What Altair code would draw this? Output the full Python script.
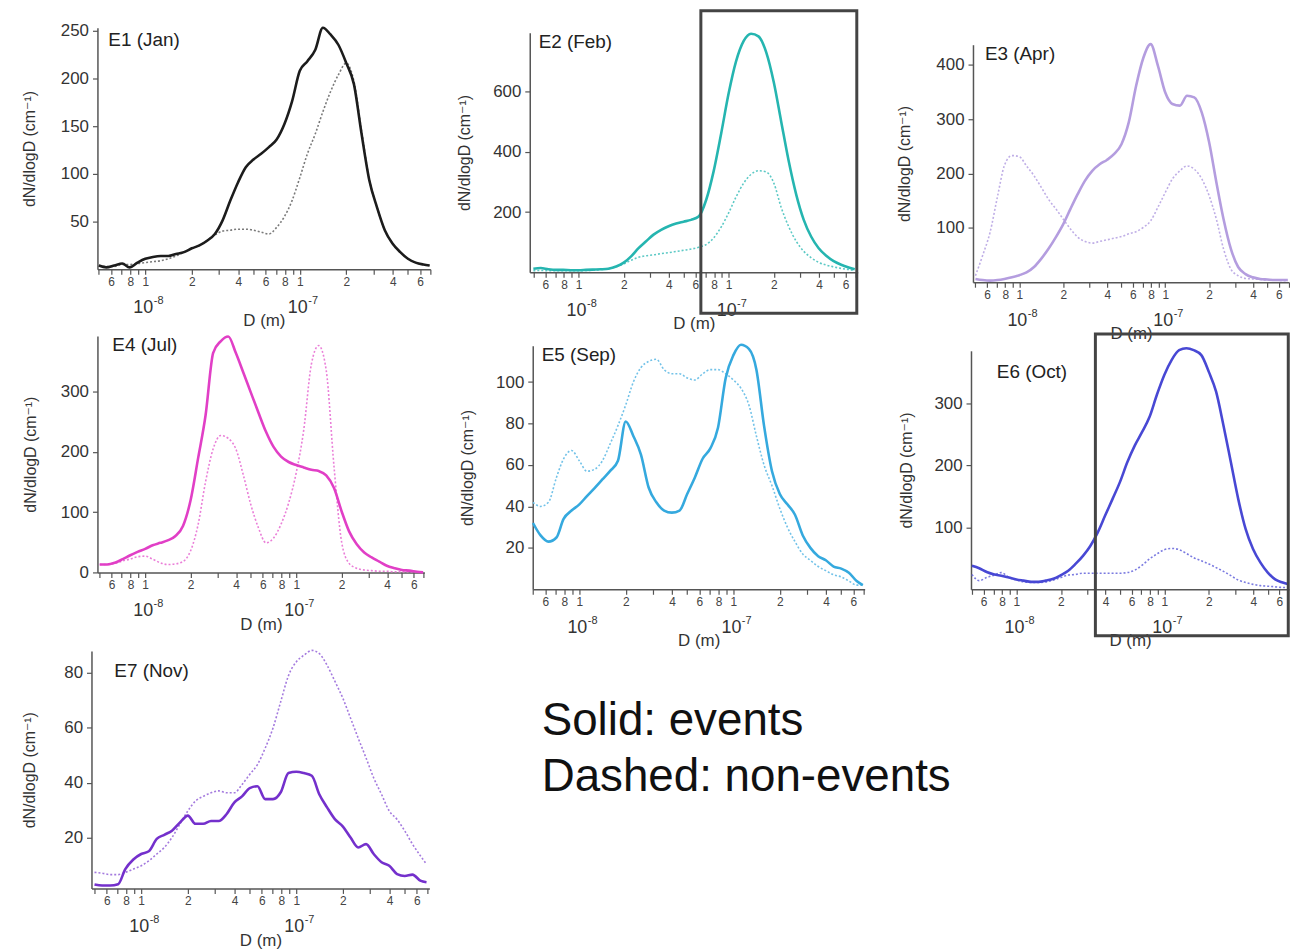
import altair as alt
import pandas as pd

# ---------------- data ----------------
# particle diameter grid, nm
D_NM = [5.0, 5.6, 6.3, 7.1, 7.9, 8.9, 10.0, 11.2, 12.6, 14.1, 15.8, 17.8,
        20.0, 22.4, 25.1, 28.2, 31.6, 35.5, 39.8, 44.7, 50.1, 56.2, 63.1, 70.8,
        79.4, 89.1, 100, 112, 126, 141, 158, 178, 200, 224, 251, 282, 316, 355,
        398, 447, 501, 562, 631, 692]

E1_EVENT = [4, 2, 4, 6, 2, 7, 11, 13, 14, 14, 16, 18, 22, 25, 30, 37, 51, 72, 91, 107,
            115, 121, 128, 136, 152, 176, 208, 218, 230, 253, 246, 235, 216, 194, 142, 93,
            65, 41, 27, 18, 11, 7, 5, 4]
E1_NONEVENT = [4, 3, 3, 5, 5, 6, 7, 8, 9, 11, 14, 18, 22, 25, 30, 36, 40, 41, 42, 42,
               41, 39, 37, 44, 55, 72, 96, 121, 142, 165, 186, 204, 216, 197, 145, 94,
               65, 41, 27, 18, 11, 7, 5, 4]

E2_EVENT = [12, 14, 10, 8, 8, 7, 7, 8, 9, 10, 12, 19, 32, 53, 80, 103, 125, 141, 153, 162,
            168, 174, 185, 240, 335, 460, 594, 700, 768, 792, 783, 730, 630, 500, 370, 258,
            175, 118, 80, 55, 37, 25, 16, 10]
E2_NONEVENT = [5, 6, 5, 5, 5, 5, 5, 6, 7, 9, 12, 18, 28, 40, 50, 55, 58, 62, 65, 69,
               73, 77, 83, 92, 114, 150, 197, 250, 296, 325, 337, 333, 296, 215, 152, 103,
               70, 48, 33, 24, 18, 13, 9, 6]

E3_EVENT = [6, 4, 3, 4, 6, 9, 13, 18, 28, 43, 61, 83, 107, 135, 162, 187, 205, 217, 225, 236,
            254, 294, 361, 413, 438, 398, 349, 328, 325, 343, 340, 312, 257, 184, 116, 61,
            28, 15, 9, 6, 5, 4, 4, 4]
E3_NONEVENT = [12, 49, 92, 159, 215, 233, 231, 214, 196, 175, 153, 135, 116, 98, 83, 75, 72, 75, 78, 81,
               84, 89, 93, 101, 113, 138, 165, 190, 205, 214, 208, 190, 159, 116, 61, 24,
               12, 7, 6, 5, 4, 4, 3, 3]

E4_EVENT = [13, 13, 16, 22, 28, 34, 39, 45, 49, 53, 60, 77, 120, 189, 260, 364, 383, 391, 364, 331,
            298, 265, 233, 208, 192, 183, 178, 174, 170, 168, 161, 140, 101, 68, 47, 33,
            25, 18, 11, 7, 4, 3, 1, 0]
E4_NONEVENT = [13, 13, 15, 19, 22, 26, 27, 22, 16, 13, 14, 18, 36, 79, 150, 205, 227, 222, 205, 161,
               112, 74, 49, 57, 80, 115, 165, 235, 345, 376, 335, 175, 50, 15, 7, 4,
               3, 2, 2, 1, 1, 1, 1, 0]

E5_EVENT = [32, 26, 23, 25, 34, 38, 41, 45, 49, 53, 57, 62, 81, 74, 65, 49, 42, 38, 37, 38,
            46, 54, 63, 68, 78, 102, 113, 118, 116, 106, 79, 57, 46, 41, 36, 26,
            20, 16, 14, 11, 10, 8, 4, 2]
E5_NONEVENT = [42, 40, 42, 54, 63, 67, 62, 57, 58, 62, 70, 79, 89, 100, 107, 110, 111, 106, 104, 104,
               102, 101, 104, 106, 106, 104, 101, 97, 89, 74, 60, 50, 39, 30, 23, 17,
               14, 11, 9, 7, 6, 4, 2, 2]

E6_EVENT = [38, 34, 28, 24, 22, 19, 16, 14, 12, 12, 14, 17, 23, 30, 41, 54, 70, 92, 119, 146,
            173, 205, 232, 254, 278, 314, 346, 370, 386, 389, 386, 378, 351, 319, 265, 205,
            146, 97, 65, 43, 27, 16, 11, 8]
E6_NONEVENT = [24, 14, 19, 23, 27, 19, 15, 12, 11, 11, 12, 15, 19, 23, 24, 26, 26, 26, 26, 26,
               26, 27, 31, 39, 49, 57, 64, 66, 64, 58, 51, 46, 41, 35, 29, 22,
               15, 11, 8, 6, 5, 4, 3, 3]

E7_EVENT = [2.9, 2.5, 2.5, 3, 8.5, 12, 14, 15, 19.5, 21, 22.5, 25.5, 28, 25, 25, 26, 26, 28.5, 32.7, 35,
            38, 38.7, 34, 34, 36.5, 43.5, 44, 43.5, 42.5, 35.7, 31, 26.6, 24, 20, 16.4, 17.6,
            14, 11, 9.7, 6.7, 6, 6.5, 4.3, 3.7]
E7_NONEVENT = [7.3, 7, 6.5, 6.5, 7.3, 8.5, 9.7, 11.5, 14, 16.4, 20, 25, 29.7, 33.3, 35, 36.3, 37, 36.3, 36.3, 39.3,
               43, 46.6, 52.6, 59.9, 69.5, 79, 84, 86.4, 88.2, 87, 82.8, 76.8, 70.7, 63.5, 56.2, 49,
               41.7, 35.7, 29.7, 26.6, 22.4, 17.6, 13.4, 10.3]

PANEL_NAMES = ["E1 (Jan)", "E2 (Feb)", "E3 (Apr)", "E4 (Jul)", "E5 (Sep)", "E6 (Oct)", "E7 (Nov)"]

Y_TICKS = [[50, 100, 150, 200, 250], [200, 400, 600], [100, 200, 300, 400],
           [0, 100, 200, 300], [20, 40, 60, 80, 100], [100, 200, 300], [20, 40, 60, 80]]

X_TICKS_NM = [5, 6, 7, 8, 9, 10, 20, 30, 40, 50, 60, 70, 80, 90,
              100, 200, 300, 400, 500, 600, 700]
LABELLED_DIGITS = [1, 2, 4, 6, 8]
DECADES_M = [1e-8, 1e-7]
DECADE_BASE = ["10", "10"]
DECADE_EXP = ["-8", "-7"]

# highlight boxes: diameter range (nm) and value range (data units of that panel)
BOX_E2_D = [65.3, 714]
BOX_E2_V = [-136, 868]
BOX_E6_D = [34.2, 689]
BOX_E6_V = [-75, 412]

NOTE = "Solid: events\nDashed: non-events"

# ---------------- styling / layout ----------------
FONT = "Liberation Sans, Arial, DejaVu Sans"
W, H = 1290, 942
PAD = 8

COLORS = [("#1c1c1c", "#7a7a7a"), ("#25b5b0", "#5cc9c5"), ("#b49ddf", "#bfaee6"),
          ("#e13fc6", "#ea7fd8"), ("#35a9de", "#72c2e8"), ("#4848d4", "#7a7ae0"),
          ("#7430cc", "#a47ade")]

# page-pixel layout of every panel's plot area and its axis domains
LAYOUT = [
    dict(x0=98, x1=433, xlo=4.9, xhi=700, yb=268, yt=25, ylo=0, yhi=253, tdx=11, tdy=18, ytx=-68),
    dict(x0=533, x1=863, xlo=4.73, xhi=724, yb=271, yt=30, ylo=0, yhi=795, tdx=9, tdy=15, ytx=-66),
    dict(x0=979, x1=1297, xlo=4.81, xhi=705, yb=281, yt=42, ylo=0, yhi=437, tdx=12, tdy=15, ytx=-69),
    dict(x0=98, x1=427, xlo=4.83, xhi=706, yb=573, yt=335, ylo=0, yhi=392, tdx=15, tdy=15, ytx=-67),
    dict(x0=536, x1=870, xlo=4.98, xhi=711, yb=590, yt=345, ylo=0, yhi=117.5, tdx=9, tdy=15, ytx=-66),
    dict(x0=977, x1=1297, xlo=4.93, xhi=697, yb=590, yt=350, ylo=0, yhi=385, tdx=26, tdy=27, ytx=-65),
    dict(x0=92, x1=432, xlo=4.78, xhi=722, yb=891, yt=652, ylo=1.45, yhi=88, tdx=23, tdy=26, ytx=-62),
]

SERIES = [(E1_EVENT, E1_NONEVENT), (E2_EVENT, E2_NONEVENT), (E3_EVENT, E3_NONEVENT),
          (E4_EVENT, E4_NONEVENT), (E5_EVENT, E5_NONEVENT), (E6_EVENT, E6_NONEVENT),
          (E7_EVENT, E7_NONEVENT)]

BOXES = {1: (BOX_E2_D, BOX_E2_V), 5: (BOX_E6_D, BOX_E6_V)}

_m = "round(datum.value / pow(10, floor(log(datum.value) / LN10 + 0.0001)))"
LABEL_EXPR = "indexof(%s, %s) >= 0 ? '' + %s : ''" % (str(LABELLED_DIGITS), _m, _m)


def make_panel(i):
    p = LAYOUT[i]
    ev, nev = SERIES[i]
    col, dcol = COLORS[i]
    xs = alt.Scale(type="log", domain=[p["xlo"] * 1e-9, p["xhi"] * 1e-9],
                   range=[p["x0"] - PAD, p["x1"] - PAD])
    ys = alt.Scale(type="linear", domain=[p["ylo"], p["yhi"]],
                   range=[p["yb"] - PAD, p["yt"] - PAD], nice=False, zero=False)
    ticks = [t * 1e-9 for t in X_TICKS_NM if p["xlo"] <= t <= p["xhi"]]
    xaxis = alt.Axis(orient="bottom", offset=(p["yb"] - PAD) - H, values=ticks,
                     labelExpr=LABEL_EXPR, labelFont=FONT, labelFontSize=12,
                     labelColor="#444", labelPadding=2, labelOverlap=False,
                     labelFlush=False, tickSize=5, tickColor="#555", tickWidth=1.2,
                     domainColor="#555", domainWidth=1.5, grid=False,
                     title="D (m)", titleFont=FONT, titleFontSize=17,
                     titleFontWeight="normal", titleColor="#333",
                     titleY=57, titleBaseline="alphabetic")
    yaxis = alt.Axis(orient="left", offset=-(p["x0"] - PAD), values=Y_TICKS[i],
                     labelFont=FONT, labelFontSize=17, labelColor="#333",
                     labelPadding=4, labelOverlap=False, labelFlush=False,
                     tickSize=5, tickColor="#555", tickWidth=1.2,
                     domainColor="#555", domainWidth=1.5, grid=False,
                     title="dN/dlogD (cm⁻¹)", titleFont=FONT, titleFontSize=16,
                     titleFontWeight="normal", titleColor="#333",
                     titleX=p["ytx"], titleBaseline="middle", titleAngle=270)
    X = alt.X("D:Q", scale=xs, axis=xaxis)
    Y = alt.Y("v:Q", scale=ys, axis=yaxis)

    d_m = [d * 1e-9 for d in D_NM]
    ev_df = pd.DataFrame({"D": d_m, "v": ev})
    nev_df = pd.DataFrame({"D": d_m, "v": nev})

    dashed = alt.Chart(nev_df).mark_line(
        color=dcol, strokeWidth=1.6, strokeDash=[2, 2], interpolate="monotone"
    ).encode(x=X, y=Y)
    solid = alt.Chart(ev_df).mark_line(
        color=col, strokeWidth=2.6, interpolate="monotone"
    ).encode(x=X, y=Y)

    title_df = pd.DataFrame({"D": [p["xlo"] * 1e-9], "v": [p["yhi"]], "t": [PANEL_NAMES[i]]})
    title = alt.Chart(title_df).mark_text(
        align="left", baseline="alphabetic", dx=p["tdx"], dy=p["tdy"],
        font=FONT, fontSize=19, color="#222"
    ).encode(x=X, y=Y, text="t:N")

    dec_df = pd.DataFrame({"D": DECADES_M, "v": [p["ylo"]] * 2,
                           "b": DECADE_BASE, "e": DECADE_EXP})
    dec_base = alt.Chart(dec_df).mark_text(
        align="right", baseline="alphabetic", dx=8, dy=44,
        font=FONT, fontSize=18, color="#333"
    ).encode(x=X, y=Y, text="b:N")
    dec_exp = alt.Chart(dec_df).mark_text(
        align="left", baseline="alphabetic", dx=8.5, dy=35,
        font=FONT, fontSize=11, color="#333"
    ).encode(x=X, y=Y, text="e:N")

    layers = [dashed, solid, title, dec_base, dec_exp]
    if i in BOXES:
        bd, bv = BOXES[i]
        box_df = pd.DataFrame({"D": [bd[0] * 1e-9], "D2": [bd[1] * 1e-9],
                               "v": [bv[0]], "v2": [bv[1]]})
        box = alt.Chart(box_df).mark_rect(
            fillOpacity=0, stroke="#444444", strokeWidth=3
        ).encode(x=X, x2="D2:Q", y=Y, y2="v2:Q")
        layers.append(box)
    return alt.layer(*layers)


panels = [make_panel(i) for i in range(7)]

note = alt.Chart(pd.DataFrame({"txt": [NOTE]})).mark_text(
    align="left", baseline="alphabetic", lineBreak="\n", lineHeight=56,
    font=FONT, fontSize=46, color="#111"
).encode(x=alt.value(545 - PAD), y=alt.value(737 - PAD), text="txt:N")

chart = alt.layer(*panels, note).resolve_scale(
    x="independent", y="independent"
).resolve_axis(
    x="independent", y="independent"
).properties(
    width=W, height=H, padding=0,
    autosize=alt.AutoSizeParams(type="none")
).configure_view(stroke=None)

chart.save("out.html", embed_options={"renderer": "svg", "actions": False})
